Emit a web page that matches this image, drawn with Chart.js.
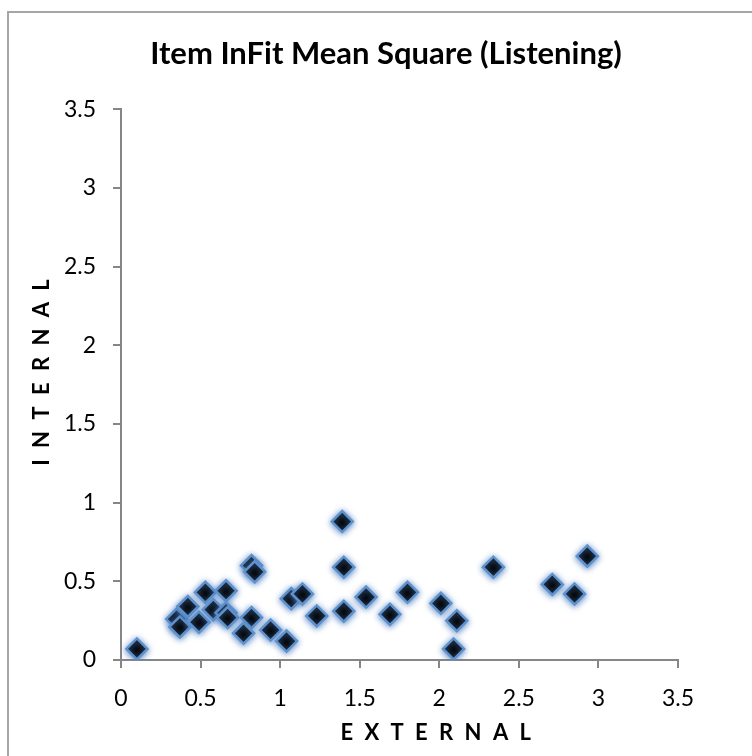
<!DOCTYPE html>
<html>
<head>
<meta charset="utf-8">
<title>Item InFit Mean Square (Listening)</title>
<script src="https://cdn.jsdelivr.net/npm/chart.js@4.4.1/dist/chart.umd.min.js"></script>
<style>
  html, body { margin: 0; padding: 0; background: #fff; }
  #wrap { width: 752px; height: 756px; }
</style>
</head>
<body>
<div id="wrap"><canvas id="grafico" width="752" height="756"></canvas></div>
<script>
// Datos
const tituloGrafico = "Item InFit Mean Square (Listening)"
const tituloX = "E X T E R N A L"
const tituloY = "I N T E R N A L"

const externos = [0.10, 0.35, 0.37, 0.42, 0.49, 0.53, 0.58, 0.66, 0.66, 0.67, 0.82, 0.84, 0.82, 0.77, 0.94, 1.04,
                  1.07, 1.14, 1.23, 1.39, 1.40, 1.40, 1.54, 1.69, 1.80, 2.01, 2.11, 2.09, 2.34, 2.71, 2.85, 2.93]
const internos = [0.07, 0.26, 0.21, 0.34, 0.24, 0.43, 0.32, 0.44, 0.30, 0.27, 0.60, 0.56, 0.27, 0.17, 0.19, 0.12,
                  0.39, 0.42, 0.28, 0.88, 0.59, 0.31, 0.40, 0.29, 0.43, 0.36, 0.25, 0.07, 0.59, 0.48, 0.42, 0.66]

// Marcas de ambos ejes
const marcasEje = [0, 0.5, 1, 1.5, 2, 2.5, 3, 3.5]

const puntos = externos.map((x, i) => ({ x: x, y: internos[i] }))

const grisEje = '#868686'

// Marco gris alrededor del grafico
const marco = {
    id: 'marco',
    beforeDraw(chart) {
        const ctx = chart.ctx
        ctx.save()
        ctx.fillStyle = '#ffffff'
        ctx.fillRect(0, 0, chart.width, chart.height)
        ctx.strokeStyle = '#a6a6a6'
        ctx.lineWidth = 2
        ctx.strokeRect(8, 12, chart.width + 20, chart.height + 20)
        ctx.restore()
    }
}

// Brillo azul de los rombos
const brillo = {
    id: 'brillo',
    beforeDatasetsDraw(chart) {
        const ctx = chart.ctx
        ctx.save()
        ctx.shadowColor = 'rgba(80, 130, 195, 0.9)'
        ctx.shadowBlur = 6
        ctx.shadowOffsetY = 1
    },
    afterDatasetsDraw(chart) {
        chart.ctx.restore()
    }
}

// Titulos de los ejes con espaciado entre letras
const titulosEjes = {
    id: 'titulosEjes',
    afterDraw(chart) {
        const ctx = chart.ctx
        const area = chart.chartArea
        const espacio = 3
        ctx.save()
        ctx.font = 'bold 22px Lato'
        ctx.fillStyle = '#000000'
        ctx.textBaseline = 'middle'
        ctx.textAlign = 'left'
        ctx.letterSpacing = espacio + 'px'

        // eje X
        let ancho = ctx.measureText(tituloX).width - espacio
        let cx = area.left + (area.right - area.left) * 0.565
        ctx.fillText(tituloX, cx - ancho / 2, 733)

        // eje Y
        ancho = ctx.measureText(tituloY).width - espacio
        const cy = area.top + (area.bottom - area.top) * 0.478
        ctx.translate(42, cy)
        ctx.rotate(-Math.PI / 2)
        ctx.fillText(tituloY, -ancho / 2, 0)
        ctx.restore()
    }
}

const fijarMarcas = (scale) => {
    scale.ticks = marcasEje.map(v => ({ value: v }))
}

const ejeComun = {
    type: 'linear',
    min: 0,
    max: 3.5,
    afterBuildTicks: fijarMarcas,
    grid: {
        display: true,
        drawOnChartArea: false,
        drawTicks: true,
        tickLength: 8,
        color: grisEje,
        lineWidth: 2
    },
    border: { display: true, color: grisEje, width: 2 },
    ticks: {
        color: '#000000',
        font: { family: 'Lato', size: 23 },
        callback: (v) => String(v)
    },
    title: { display: false }
}

const ctx = document.querySelector('#grafico').getContext('2d')

new Chart(ctx, {
    type: 'scatter',
    data: {
        datasets: [{
            label: 'Items',
            data: puntos,
            pointStyle: 'rectRot',
            pointRadius: 10.5,
            pointHoverRadius: 10.5,
            backgroundColor: '#000000',
            borderColor: '#5f92cc',
            borderWidth: 2.5
        }]
    },
    options: {
        responsive: false,
        animation: false,
        events: [],
        layout: { padding: { left: 20, right: 0, top: 0, bottom: 0 } },
        plugins: {
            legend: { display: false },
            tooltip: { enabled: false },
            title: {
                display: true,
                text: tituloGrafico,
                color: '#000000',
                font: { family: 'Lato', size: 31, weight: 'bold', lineHeight: 1.2 },
                padding: { top: 35, bottom: 37 }
            }
        },
        scales: {
            x: {
                ...ejeComun,
                position: 'bottom',
                ticks: { ...ejeComun.ticks, padding: 17, maxRotation: 0 },
                afterFit: (s) => { s.height = 96 }
            },
            y: {
                ...ejeComun,
                position: 'left',
                ticks: { ...ejeComun.ticks, padding: 17 },
                afterFit: (s) => { s.width = 101 }
            },
            // espacio vacio a la derecha del area de trazado
            derecha: {
                type: 'linear',
                position: 'right',
                display: true,
                grid: { display: false },
                border: { display: false },
                ticks: { display: false },
                afterFit: (s) => { s.width = 74 }
            }
        }
    },
    plugins: [marco, brillo, titulosEjes]
})
</script>
</body>
</html>
